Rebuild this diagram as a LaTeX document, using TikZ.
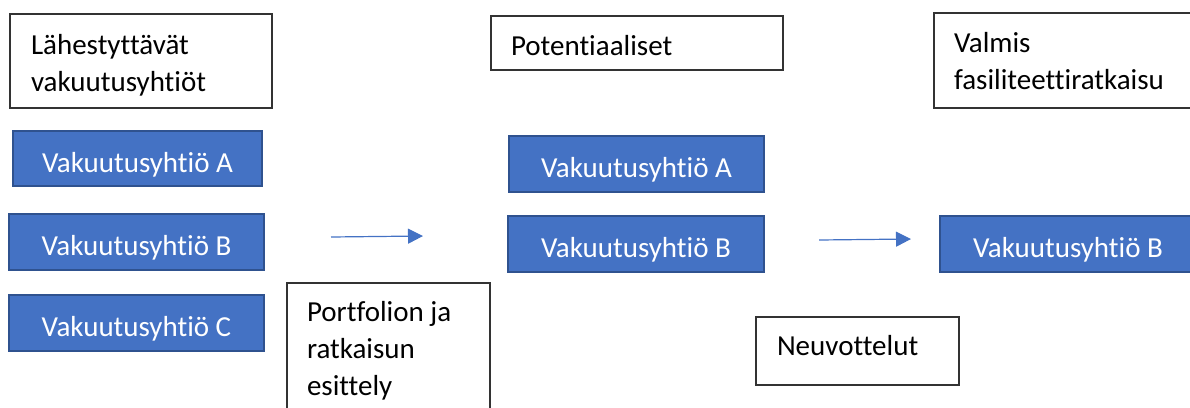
\documentclass[tikz,border=0pt]{standalone}
\usepackage{fontspec}
\setmainfont{Carlito}[Ligatures={NoCommon,NoContextual}]
\usetikzlibrary{arrows.meta}
\definecolor{boxblue}{HTML}{4472C4}
\definecolor{boxedge}{HTML}{2F528F}
\newcommand{\boxtext}[2]{\parbox[t]{#1}{\raggedright #2}}
\begin{document}
\begin{tikzpicture}[x=1pt,y=-1pt,
  every node/.style={font=\fontsize{29}{37}\selectfont},
  whitebox/.style={draw=black!80, line width=1.3pt, fill=white,
    anchor=north west, inner ysep=0pt, outer sep=0pt},
  bluebox/.style={draw=boxedge, line width=1.6pt, fill=boxblue, text=white,
    anchor=north west, inner sep=0pt, outer sep=0pt, text height=30pt, text depth=3pt},
  flow/.style={draw=boxblue, line width=1.2pt, -{Triangle[length=15pt,width=15pt]}}]
\useasboundingbox (0,0) rectangle (1190,407);
% white label boxes
\node[whitebox, minimum width=262pt, minimum height=94pt, inner xsep=21pt,
  text height=20pt, text depth=33.4pt]
  (lah) at (10,14) {\boxtext{220pt}{Lähestyttävät\\vakuutusyhtiöt}};
\node[whitebox, minimum width=292pt, minimum height=54pt, inner xsep=20pt,
  text height=26pt, text depth=2pt]
  (pot) at (491,16) {\boxtext{252pt}{Potentiaaliset}};
\node[whitebox, minimum width=300pt, minimum height=95pt, inner xsep=20pt,
  text height=20pt, text depth=36.4pt]
  (val) at (934,13) {\boxtext{260pt}{Valmis\\fasiliteettiratkaisu}};
\node[whitebox, minimum width=203pt, minimum height=142pt, inner xsep=20pt,
  text height=20pt, text depth=84.6pt]
  (por) at (287,283) {\boxtext{163pt}{Portfolion ja\\ratkaisun\\esittely}};
\node[whitebox, minimum width=203pt, minimum height=68pt, inner xsep=21pt,
  text height=20pt, text depth=12pt]
  (neu) at (756,317) {\boxtext{161pt}{Neuvottelut}};
% blue boxes
\node[bluebox, minimum width=249pt, minimum height=55pt] (a1) at (13,131) {Vakuutusyhtiö A};
\node[bluebox, minimum width=255pt, minimum height=56pt] (b1) at (9,214) {Vakuutusyhtiö B};
\node[bluebox, minimum width=255pt, minimum height=56pt] (c1) at (9,295) {Vakuutusyhtiö C};
\node[bluebox, minimum width=255pt, minimum height=56pt] (a2) at (509,136) {Vakuutusyhtiö A};
\node[bluebox, minimum width=256pt, minimum height=56pt] (b2) at (508,216) {Vakuutusyhtiö B};
\node[bluebox, minimum width=256pt, minimum height=56pt] (b3) at (940,216) {Vakuutusyhtiö B};
% arrows
\coordinate (s1) at (331,237);
\coordinate (e1) at (423,236);
\coordinate (s2) at (819,240);
\coordinate (e2) at (911,239);
\draw[flow] (s1) -- (e1);
\draw[flow] (s2) -- (e2);
\end{tikzpicture}
\end{document}
